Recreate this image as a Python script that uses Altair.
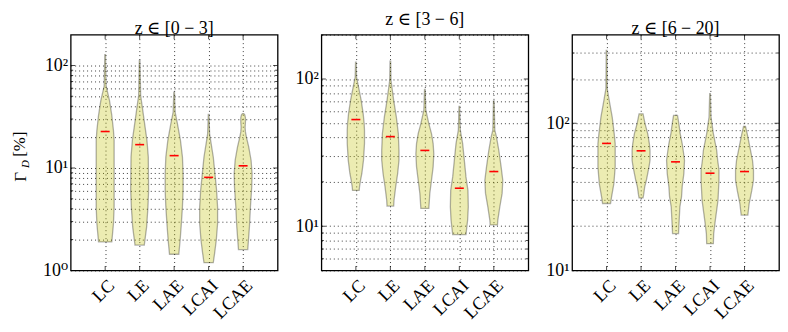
import json
import altair as alt
import pandas as pd

CATEGORIES = ["LC", "LE", "LAE", "LCAI", "LCAE"]
PANEL_TITLES = ["z ∈ [0 − 3]", "z ∈ [3 − 6]", "z ∈ [6 − 20]"]
Y_DOMAINS = [[1, 200], [5, 200], [10, 400]]
Y_MAJOR = [1, 10, 100]
Y_GRID = [
    [1, 2, 3, 4, 5, 6, 7, 8, 9, 10, 20, 30, 40, 50, 60, 70, 80, 90, 100],
    [5, 6, 7, 8, 9, 10, 20, 30, 40, 50, 60, 70, 80, 90, 100, 200],
    [10, 20, 30, 40, 50, 60, 70, 80, 90, 100, 200, 300],
]

# violin outlines: values (ascending) and relative half-widths (27 = widest)
P1_VALUES = {
    "LC": [1.90, 2.87, 4.17, 8.8, 18.6, 23.2, 32.6, 45.6, 63.0, 128],
    "LE": [1.77, 2.66, 4.17, 6.06, 12.8, 18.6, 27.0, 39.3, 51.0, 112],
    "LAE": [1.44, 1.97, 2.66, 4.17, 6.06, 8.81, 12.8, 18.6, 27.0, 35.1, 55.0],
    "LCAI": [1.19, 1.47, 1.97, 2.87, 4.17, 6.06, 8.81, 12.8, 18.6, 21.6, 33.3],
    "LCAE": [1.60, 2.66, 4.17, 6.53, 8.81, 11.9, 16.0, 20.0, 22.5, 25.0, 28.0, 31.0, 33.0, 34.0],
}
P1_WIDTHS = {
    "LC": [20, 25, 27, 27, 27, 25, 20, 13, 3, 1],
    "LE": [14, 21, 25, 27, 26, 22, 15, 8, 3, 1],
    "LAE": [14, 18, 21, 25, 27, 27, 25, 19, 10, 3, 1],
    "LCAI": [14, 18, 23, 27, 27, 24, 19, 14, 6, 3, 1],
    "LCAE": [14, 19, 22, 26, 27, 24, 17, 10, 7, 6, 7, 7, 5, 2],
}
P1_MEDIANS = [22.7, 16.9, 13.2, 8.1, 10.5]

P2_VALUES = {
    "LC": [17.5, 18.5, 20.5, 22.8, 28.1, 36.4, 44.9, 49.8, 58.2, 71.6, 88.3, 103, 130],
    "LE": [13.7, 15.0, 18.5, 22.8, 28.1, 32.8, 42.6, 55.2, 71.6, 98, 132],
    "LAE": [13.2, 16.7, 20.5, 25.3, 31.1, 36.4, 42.6, 49.8, 61.3, 85.1],
    "LCAI": [8.77, 11.0, 13.5, 17.5, 21.6, 28.1, 36.4, 44.9, 65.2],
    "LCAE": [10.2, 11.0, 13.5, 16.7, 20.5, 25.3, 32.8, 40.4, 44.9, 70.9],
}
P2_WIDTHS = {
    "LC": [10, 11, 14, 18, 23, 26, 26, 25, 22, 16, 8, 2, 1],
    "LE": [10, 11, 16, 22, 26, 26, 24, 18, 10, 2, 1],
    "LAE": [12, 15, 20, 25, 27, 25, 20, 12, 3, 1],
    "LCAI": [20, 25, 27, 26, 20, 15, 10, 3, 1],
    "LCAE": [11, 12, 18, 25, 27, 22, 15, 8, 3, 1],
}
P2_MEDIANS = [53.0, 40.6, 32.7, 18.1, 23.5]

P3_VALUES = {
    "LC": [28.5, 31.6, 38.9, 50.6, 72.8, 85.1, 110, 143, 172, 313],
    "LE": [31.1, 33.0, 37.0, 41.0, 45.5, 50.6, 56.1, 65.6, 72.8, 85.1, 99.5, 110, 116],
    "LAE": [17.8, 22.0, 27.0, 31.6, 37.0, 45.5, 56.1, 65.6, 72.8, 85.1, 99.5, 113],
    "LCAI": [15.2, 17.8, 22.0, 30.0, 41.0, 48.0, 56.1, 65.6, 85.1, 110, 159],
    "LCAE": [23.8, 28.5, 35.1, 41.0, 48.0, 56.1, 69.1, 85.1, 95.4],
}
P3_WIDTHS = {
    "LC": [12, 15, 22, 26, 26, 23, 17, 8, 2, 1],
    "LE": [6, 8, 11, 16, 20, 24, 27, 27, 25, 20, 12, 8, 6],
    "LAE": [9, 11, 13, 18, 20, 25, 27, 23, 20, 14, 10, 6],
    "LCAI": [10, 11, 16, 24, 27, 27, 23, 20, 10, 3, 1],
    "LCAE": [10, 14, 22, 27, 27, 24, 16, 8, 3],
}
P3_MEDIANS = [73.0, 65.0, 54.7, 45.8, 47.0]

PANELS = [
    (P1_VALUES, P1_WIDTHS, P1_MEDIANS),
    (P2_VALUES, P2_WIDTHS, P2_MEDIANS),
    (P3_VALUES, P3_WIDTHS, P3_MEDIANS),
]

W, H = 208, 237
HALF_MAX = 0.26
MED_HALF = 0.13
SERIF = "'Liberation Serif', 'Times New Roman', 'DejaVu Serif', serif"

x_label_expr = json.dumps([""] + CATEGORIES) + "[datum.value]"
y_label_expr = ("datum.value == 1 ? '10\u2070' : datum.value == 10 ? '10\u00b9' : "
                "datum.value == 100 ? '10\u00b2' : ''")

FILL = "#bfbf00"


def make_panel(i):
    values, widths, medians = PANELS[i]
    rows = []
    for k, cat in enumerate(CATEGORIES):
        pos = k + 1
        for v, w in zip(values[cat], widths[cat]):
            hw = HALF_MAX * w / 27.0
            rows.append({"cat": cat, "val": v, "x1": pos - hw, "x2": pos + hw})
    vdf = pd.DataFrame(rows)
    mdf = pd.DataFrame({
        "cat": CATEGORIES,
        "med": medians,
        "m1": [k + 1 - MED_HALF for k in range(len(CATEGORIES))],
        "m2": [k + 1 + MED_HALF for k in range(len(CATEGORIES))],
    })
    tdf = pd.DataFrame({"val": Y_GRID[i], "major": [v in Y_MAJOR for v in Y_GRID[i]]})
    xtdf = pd.DataFrame({"pos": list(range(1, len(CATEGORIES) + 1))})

    yscale = alt.Scale(type="log", domain=Y_DOMAINS[i], nice=False)
    xscale = alt.Scale(domain=[0, 6], nice=False, zero=False)

    violins = alt.Chart(vdf).mark_area(
        orient="horizontal", fill=FILL, fillOpacity=0.3,
        stroke="#000000", strokeOpacity=0.3, strokeWidth=1.3,
    ).encode(
        y=alt.Y("val:Q", scale=yscale,
                axis=alt.Axis(values=Y_GRID[i], labelExpr=y_label_expr, title=None,
                              grid=True, labelPadding=3, minExtent=30, maxExtent=30,
                              labelFlush=False, labelOverlap=False)),
        x=alt.X("x1:Q", scale=xscale,
                axis=alt.Axis(values=list(range(1, len(CATEGORIES) + 1)), labelExpr=x_label_expr,
                              title=None, grid=True, labelAngle=-45, labelAlign="right",
                              labelBaseline="top", labelPadding=6, labelFlush=False,
                              labelOverlap=False, labelBound=False)),
        x2="x2:Q",
        detail="cat:N",
    )

    meds = alt.Chart(mdf).mark_rule(color="red", strokeWidth=1.6).encode(
        x="m1:Q", x2="m2:Q", y="med:Q"
    )

    def yticks(xpos):
        return alt.Chart(tdf).mark_tick(orient="horizontal", clip=True, color="black",
                                        thickness=1).encode(
            y="val:Q", x=alt.value(xpos),
            size=alt.condition("datum.major", alt.value(9), alt.value(5)),
        )

    def xticks(ypos):
        return alt.Chart(xtdf).mark_tick(orient="vertical", clip=True, color="black",
                                         thickness=1, size=9).encode(
            x="pos:Q", y=alt.value(ypos),
        )

    layers = [violins, meds, yticks(0), yticks(W), xticks(0), xticks(H)]

    if i == 0:
        one = pd.DataFrame({"a": [0]})
        layers += [
            alt.Chart(one).mark_text(text="Γ", angle=270, font=SERIF,
                                     fontSize=17, align="center", baseline="middle",
                                     color="black").encode(
                x=alt.value(-50), y=alt.value(143)),
            alt.Chart(one).mark_text(text="D", angle=270, font=SERIF,
                                     fontSize=11, fontStyle="italic", align="center",
                                     baseline="middle", color="black").encode(
                x=alt.value(-45), y=alt.value(130)),
            alt.Chart(one).mark_text(text="[%]", angle=270, font=SERIF,
                                     fontSize=17, align="center", baseline="middle",
                                     color="black").encode(
                x=alt.value(-51), y=alt.value(110)),
        ]

    return alt.layer(*layers).properties(
        width=W, height=H,
        title=alt.TitleParams(PANEL_TITLES[i], anchor="middle", frame="group"),
    )


chart = alt.hconcat(*[make_panel(i) for i in range(3)], spacing=12).properties(
    padding={"left": 2, "top": 1, "right": 0, "bottom": 0}
).configure_view(
    stroke="black", strokeWidth=1.3
).configure_axis(
    labelFont=SERIF, labelFontSize=18, labelColor="black",
    gridColor="black", gridDash=[1, 3], gridWidth=0.9, gridOpacity=0.85,
    domain=False, tickSize=0,
).configure_title(
    font=SERIF, fontSize=18, fontWeight="normal", color="black", offset=-3,
)

chart.save("out.html", embed_options={"renderer": "svg", "actions": False})
